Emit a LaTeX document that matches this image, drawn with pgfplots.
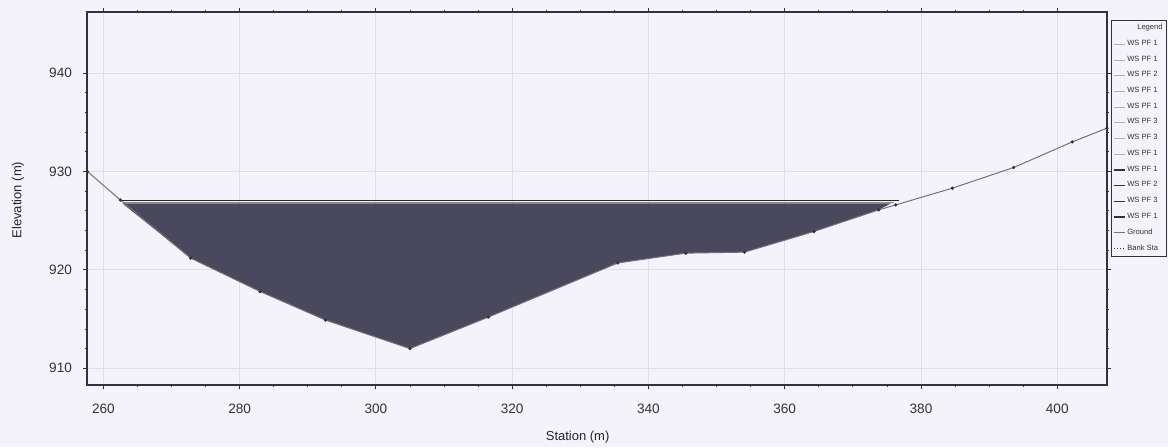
\documentclass[border=0pt]{standalone}
\usepackage{pgfplots}
\pgfplotsset{compat=1.18}
\usepackage{fontspec}
\setmainfont{Liberation Sans}
\definecolor{bgc}{RGB}{244,243,251}
\definecolor{water}{RGB}{74,72,92}
\definecolor{gridc}{RGB}{222,221,232}
\begin{document}
\begin{tikzpicture}
\useasboundingbox[fill=bgc] (-43.5pt,-31pt) rectangle (540.5pt,192.5pt);
\begin{axis}[
  scale only axis,
  width=510pt, height=186.5pt,
  xmin=257.6, xmax=407.3, ymin=908.3, ymax=946.2,
  xtick={260,280,...,400}, ytick={910,920,930,940},
  minor x tick num=3, minor y tick num=4,
  tick align=outside,
  major tick length=2pt, minor tick length=1.2pt,
  grid=major,
  major grid style={gridc, line width=0.4pt},
  axis line style={line width=0.9pt, black!80},
  tick style={black!80, line width=0.4pt},
  axis background/.style={fill=bgc},
  /pgf/number format/assume math mode=true,
  tick label style={font=\fontsize{6.8}{8}\selectfont, text=black!80},
  xticklabel style={yshift=-4pt},
  yticklabel style={xshift=-2pt},
  xlabel={Station (m)}, ylabel={Elevation (m)},
  label style={font=\fontsize{6.5}{7.5}\selectfont, text=black!85},
  xlabel style={at={(axis description cs:0.481,-0.139)}, anchor=center},
  ylabel style={at={(axis description cs:-0.0676,0.496)}, anchor=center},
  clip=false,
  legend style={at={(axis description cs:1.004,0.978)}, anchor=north west,
    font=\fontsize{3.8}{4.4}\selectfont, draw=black!80, line width=0.4pt,
    fill=bgc, row sep=2.5pt, inner sep=1.2pt,
    nodes={inner sep=0.6pt, text=black!80}},
  legend cell align=left,
  legend image code/.code={\draw[#1] (0pt,0pt) -- (5.5pt,0pt);},
]
% water fill polygon (WS to ground)
\addplot[fill=water, draw=none, forget plot] coordinates {
 (262.8,926.75) (272.8,921.2) (283.0,917.8) (292.6,914.9) (305.0,912.0)
 (316.5,915.2) (335.5,920.7) (345.5,921.7) (354.1,921.8) (364.3,923.9)
 (373.8,926.1) (375.6,926.75)} -- cycle;
% water surface lines
\addplot[black!85, line width=0.8pt, forget plot] coordinates {(262.5,927.05) (376.8,927.05)};
\addplot[black!45, line width=0.3pt, forget plot] coordinates {(263.0,926.85) (376.0,926.85)};
% ground
\addplot[black!55, line width=0.5pt, mark=*, mark size=0.55pt,
  mark options={fill=black!80, draw=black!80}, forget plot] coordinates {
 (257.65,930.0) (262.5,927.1) (272.8,921.2) (283.0,917.8) (292.6,914.9)
 (305.0,912.0) (316.5,915.2) (335.5,920.7) (345.5,921.7) (354.1,921.8)
 (364.3,923.9) (373.8,926.1) (376.3,926.6) (384.6,928.3) (393.6,930.4)
 (402.2,933.0) (407.3,934.4)};
% legend
\addlegendimage{empty legend}\addlegendentry{\hspace{5pt}Legend}
\addlegendimage{black!30}\addlegendentry{WS PF 1}
\addlegendimage{black!30}\addlegendentry{WS PF 1}
\addlegendimage{black!30}\addlegendentry{WS PF 2}
\addlegendimage{black!30}\addlegendentry{WS PF 1}
\addlegendimage{black!30}\addlegendentry{WS PF 1}
\addlegendimage{black!30}\addlegendentry{WS PF 3}
\addlegendimage{black!30}\addlegendentry{WS PF 3}
\addlegendimage{black!30}\addlegendentry{WS PF 1}
\addlegendimage{black!80, line width=0.6pt}\addlegendentry{WS PF 1}
\addlegendimage{black!80, line width=0.6pt}\addlegendentry{WS PF 2}
\addlegendimage{black!80, line width=0.6pt}\addlegendentry{WS PF 3}
\addlegendimage{black!80, line width=0.6pt}\addlegendentry{WS PF 1}
\addlegendimage{black!55, mark=*, mark size=0.5pt}\addlegendentry{Ground}
\addlegendimage{black!80, densely dotted}\addlegendentry{Bank Sta}
\end{axis}
\end{tikzpicture}
\end{document}
